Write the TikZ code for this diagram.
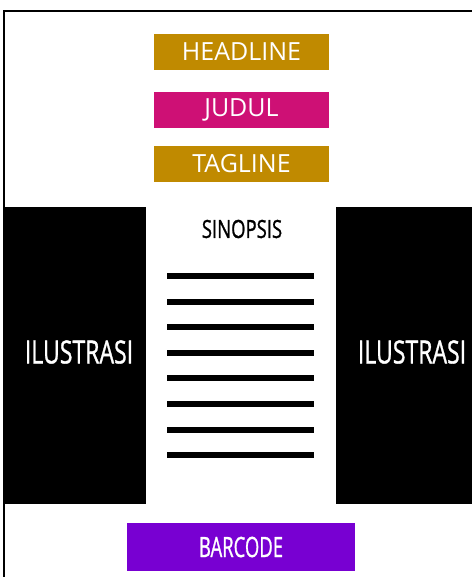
\documentclass[tikz,border=0pt]{standalone}
\usepackage{fontspec}
\setmainfont{Open Sans}
\newfontfamily\handfont[FakeBold=1.2]{Open Sans}
\definecolor{goldbox}{RGB}{192,138,0}
\definecolor{magbox}{RGB}{206,16,117}
\definecolor{purpbox}{RGB}{120,0,210}
\begin{document}
\begin{tikzpicture}[x=1pt,y=-1pt,
  labelbox/.style={rectangle,inner sep=0pt,minimum width=175pt,minimum height=36pt,text=white,font=\fontsize{25}{29}\selectfont},
  panel/.style={rectangle,fill=black,inner sep=0pt,minimum width=142pt,minimum height=297pt},
  hand/.style={inner sep=0pt,font=\handfont\fontsize{32}{36}\selectfont},
  textline/.style={line width=5.5pt}]
\useasboundingbox (0,0) rectangle (472,577);
\fill[white] (0,0) rectangle (472,577);
% frame
\draw[line width=2pt] (4,577) -- (4,11) -- (472,11);
% top labels
\node[labelbox,fill=goldbox] (headline) at (241.5,52) {HEADLINE};
\node[labelbox,fill=magbox] (judul) at (241.5,110) {JUDUL};
\node[labelbox,fill=goldbox] (tagline) at (241.5,164) {TAGLINE};
% panels
\node[panel] (leftpanel) at (75,355.5) {};
\node[panel,minimum width=136pt] (rightpanel) at (404,355.5) {};
\node[hand,text=white] (illeft) at (79,352) {\scalebox{0.72}[1]{ILUSTRASI}};
\node[hand,text=white] (ilright) at (412,352) {\scalebox{0.72}[1]{ILUSTRASI}};
% synopsis
\node[hand,font=\handfont\fontsize{25}{29}\selectfont] (sinopsis) at (242,229) {\scalebox{0.74}[1]{SINOPSIS}};
\foreach \yy in {276,302,327,353,378,404,430,455}
  \draw[textline] (167,\yy) -- (314,\yy);
% barcode
\node[rectangle,fill=purpbox,inner sep=0pt,minimum width=228pt,minimum height=48pt,text=white,font=\handfont\fontsize{28}{32}\selectfont] (barcode) at (241,547) {\scalebox{0.66}[1]{BARCODE}};
\end{tikzpicture}
\end{document}
